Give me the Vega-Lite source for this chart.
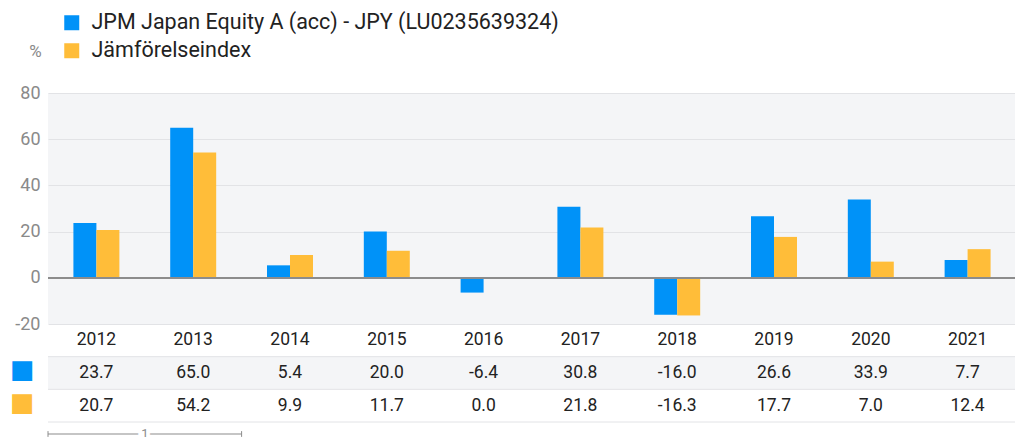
{
  "$schema": "https://vega.github.io/schema/vega-lite/v6.json",
  "padding": {"left": 9, "top": 12, "right": 0, "bottom": 0},
  "spacing": 0,
  "bounds": "flush",
  "config": {
    "font": "Roboto",
    "view": {"stroke": null},
    "concat": {"spacing": 0},
    "locale": {"number": {"decimal": ".", "thousands": ",", "grouping": [3], "currency": ["", ""], "minus": "-"}}
  },
  "datasets": {
    "d": [
      {"year": "2012", "series": "JPM Japan Equity A (acc) - JPY (LU0235639324)", "value": 23.7},
      {"year": "2013", "series": "JPM Japan Equity A (acc) - JPY (LU0235639324)", "value": 65.0},
      {"year": "2014", "series": "JPM Japan Equity A (acc) - JPY (LU0235639324)", "value": 5.4},
      {"year": "2015", "series": "JPM Japan Equity A (acc) - JPY (LU0235639324)", "value": 20.0},
      {"year": "2016", "series": "JPM Japan Equity A (acc) - JPY (LU0235639324)", "value": -6.4},
      {"year": "2017", "series": "JPM Japan Equity A (acc) - JPY (LU0235639324)", "value": 30.8},
      {"year": "2018", "series": "JPM Japan Equity A (acc) - JPY (LU0235639324)", "value": -16.0},
      {"year": "2019", "series": "JPM Japan Equity A (acc) - JPY (LU0235639324)", "value": 26.6},
      {"year": "2020", "series": "JPM Japan Equity A (acc) - JPY (LU0235639324)", "value": 33.9},
      {"year": "2021", "series": "JPM Japan Equity A (acc) - JPY (LU0235639324)", "value": 7.7},
      {"year": "2012", "series": "Jämförelseindex", "value": 20.7},
      {"year": "2013", "series": "Jämförelseindex", "value": 54.2},
      {"year": "2014", "series": "Jämförelseindex", "value": 9.9},
      {"year": "2015", "series": "Jämförelseindex", "value": 11.7},
      {"year": "2016", "series": "Jämförelseindex", "value": 0.0},
      {"year": "2017", "series": "Jämförelseindex", "value": 21.8},
      {"year": "2018", "series": "Jämförelseindex", "value": -16.3},
      {"year": "2019", "series": "Jämförelseindex", "value": 17.7},
      {"year": "2020", "series": "Jämförelseindex", "value": 7.0},
      {"year": "2021", "series": "Jämförelseindex", "value": 12.4}
    ],
    "rows": [
      {"row": "JPM Japan Equity A (acc) - JPY (LU0235639324)"},
      {"row": "Jämförelseindex"}
    ],
    "nav": [{"year": "2012"}, {"year": "2013"}]
  },
  "vconcat": [
    {
      "width": 968,
      "height": 231,
      "view": {"fill": "#f4f5f7", "stroke": null},
      "data": {"name": "d"},
      "layer": [
        {
          "mark": {"type": "bar"},
          "encoding": {
            "x": {"field": "year", "type": "nominal", "scale": {"paddingInner": 0.525, "paddingOuter": 0.2625}, "axis": null},
            "xOffset": {"field": "series", "type": "nominal", "sort": ["JPM Japan Equity A (acc) - JPY (LU0235639324)", "Jämförelseindex"], "scale": {"paddingInner": 0, "paddingOuter": 0}},
            "y": {
              "field": "value", "type": "quantitative",
              "scale": {"domain": [-20, 80], "nice": false, "zero": false},
              "axis": {
                "values": [-20, 0, 20, 40, 60, 80],
                "grid": true, "gridColor": "#e2e3e6", "gridWidth": 1,
                "domain": false, "ticks": false, "tickSize": 0,
                "labelPadding": 8, "labelFontSize": 18, "labelColor": "#8a8a8a",
                "title": "%", "titleAngle": 0, "titleX": -13, "titleY": -42,
                "titleAlign": "center", "titleBaseline": "middle",
                "titleFontSize": 17, "titleFontWeight": "normal", "titleColor": "#8a8a8a"
              }
            },
            "color": {
              "field": "series", "type": "nominal",
              "scale": {"domain": ["JPM Japan Equity A (acc) - JPY (LU0235639324)", "Jämförelseindex"], "range": ["#0092f8", "#ffbd39"]},
              "legend": {
                "orient": "none", "legendX": 13, "legendY": -81, "direction": "vertical",
                "title": null, "symbolType": "square", "symbolSize": 225, "symbolStrokeWidth": 0,
                "labelFontSize": 21.5, "labelColor": "#222222", "rowPadding": 5, "labelOffset": 9, "padding": 0, "labelLimit": 0
              }
            }
          }
        },
        {
          "mark": {"type": "rule", "color": "#8c8c8c", "strokeWidth": 1.5},
          "encoding": {"y": {"datum": 0, "type": "quantitative"}}
        }
      ]
    },
    {
      "width": 968,
      "height": 98,
      "layer": [
        {
          "data": {"values": [{"row": "JPM Japan Equity A (acc) - JPY (LU0235639324)"}]},
          "mark": {"type": "rect", "color": "#f4f5f7"},
          "encoding": {
            "y": {
              "field": "row", "type": "nominal",
              "scale": {"domain": ["year", "JPM Japan Equity A (acc) - JPY (LU0235639324)", "Jämförelseindex"], "paddingInner": 0, "paddingOuter": 0},
              "axis": {
                "title": null, "domain": false, "ticks": false, "grid": false,
                "labelExpr": "datum.value == 'year' ? '' : '■'",
                "labelFont": "DejaVu Sans", "labelFontSize": 26, "labelPadding": 14, "labelOffset": -3,
                "labelColor": {"condition": {"test": "datum.value == 'Jämförelseindex'", "value": "#ffbd39"}, "value": "#0092f8"}
              }
            }
          }
        },
        {
          "data": {"name": "rows"},
          "mark": {"type": "rule", "color": "#e2e3e6", "strokeWidth": 1},
          "encoding": {"y": {"field": "row", "type": "nominal", "bandPosition": 0}}
        },
        {
          "data": {"values": [{"row": "Jämförelseindex"}]},
          "mark": {"type": "rule", "color": "#e2e3e6", "strokeWidth": 1},
          "encoding": {"y": {"field": "row", "type": "nominal", "bandPosition": 1}}
        },
        {
          "data": {"name": "d"},
          "mark": {"type": "text", "fontSize": 17.5, "color": "#222222"},
          "encoding": {
            "x": {"field": "year", "type": "nominal", "scale": {"paddingInner": 0.525, "paddingOuter": 0.2625}, "axis": null},
            "y": {"field": "series", "type": "nominal"},
            "text": {"field": "value", "type": "quantitative", "format": ".1f"}
          }
        },
        {
          "data": {"name": "d"},
          "transform": [{"filter": "datum.series == 'Jämförelseindex'"}],
          "mark": {"type": "text", "fontSize": 17.5, "color": "#222222"},
          "encoding": {
            "x": {"field": "year", "type": "nominal", "axis": null},
            "y": {"datum": "year", "type": "nominal"},
            "text": {"field": "year", "type": "nominal"}
          }
        }
      ]
    },
    {
      "width": 968,
      "height": 24,
      "data": {"name": "nav"},
      "encoding": {
        "x": {"field": "year", "type": "nominal", "scale": {"domain": ["2012","2013","2014","2015","2016","2017","2018","2019","2020","2021"], "paddingInner": 0, "paddingOuter": 0}, "axis": null}
      },
      "layer": [
        {
          "mark": {"type": "rect", "color": "#8c8c8c"},
          "encoding": {
            "y": {"datum": 0.48, "type": "quantitative", "scale": {"domain": [0, 1]}, "axis": null},
            "y2": {"datum": 0.52}
          }
        },
        {
          "mark": {"type": "rule", "color": "#8c8c8c", "strokeWidth": 1},
          "encoding": {
            "x": {"field": "year", "type": "nominal", "bandPosition": 0},
            "y": {"datum": 0.38, "type": "quantitative", "axis": null},
            "y2": {"datum": 0.62}
          }
        },
        {
          "data": {"values": [{"year": "2013"}]},
          "mark": {"type": "rule", "color": "#8c8c8c", "strokeWidth": 1},
          "encoding": {
            "x": {"field": "year", "type": "nominal", "bandPosition": 1},
            "y": {"datum": 0.38, "type": "quantitative", "axis": null},
            "y2": {"datum": 0.62}
          }
        },
        {
          "data": {"values": [{"year": "2013", "page": "1"}]},
          "mark": {"type": "text", "fontSize": 13, "color": "#ffffff", "stroke": "#ffffff", "strokeWidth": 8, "baseline": "middle"},
          "encoding": {
            "x": {"field": "year", "type": "nominal", "bandPosition": 0},
            "y": {"datum": 0.5, "type": "quantitative", "axis": null},
            "text": {"field": "page"}
          }
        },
        {
          "data": {"values": [{"year": "2013", "page": "1"}]},
          "mark": {"type": "text", "fontSize": 13, "color": "#8c8c8c", "baseline": "middle"},
          "encoding": {
            "x": {"field": "year", "type": "nominal", "bandPosition": 0},
            "y": {"datum": 0.5, "type": "quantitative", "axis": null},
            "text": {"field": "page"}
          }
        }
      ]
    }
  ]
}
